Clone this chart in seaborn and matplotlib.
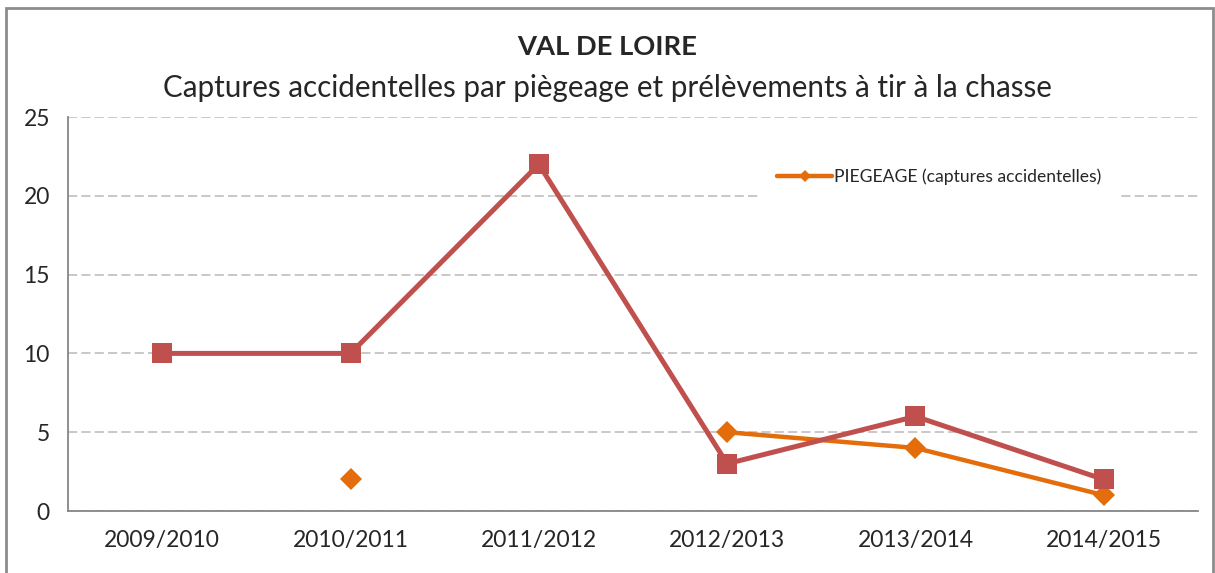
import numpy as np
import pandas as pd
import seaborn as sns
import matplotlib.pyplot as plt
from matplotlib.patches import Rectangle
from matplotlib.lines import Line2D

saisons = ["2009/2010", "2010/2011", "2011/2012", "2012/2013", "2013/2014", "2014/2015"]
tir = [10, 10, 22, 3, 6, 2]
piegeage = [np.nan, 2, np.nan, 5, 4, 1]

RED = "#C0504D"
ORANGE = "#E46C0A"
GRID = "#BFBFBF"
AXIS = "#868686"

sns.set_style("white")
plt.rcParams['font.family'] = ['Lato', 'DejaVu Sans']

df = pd.DataFrame({"x": range(len(saisons)), "tir": tir, "piegeage": piegeage})
# split orange series into segments where values are missing
df["seg"] = df["piegeage"].isna().cumsum()
pg = df.dropna(subset=["piegeage"])

fig = plt.figure(figsize=(12.15, 5.73), dpi=100)
ax = fig.add_axes([68 / 1215, 1 - 511 / 573, (1198 - 68) / 1215, (511 - 117) / 573])

sns.lineplot(data=pg, x="x", y="piegeage", units="seg", estimator=None, color=ORANGE,
             lw=3.2, marker="D", markersize=11, markeredgewidth=0, ax=ax, zorder=3)
sns.lineplot(data=df, x="x", y="tir", color=RED, lw=3.6, marker="s",
             markersize=14.5, markeredgewidth=0, ax=ax, zorder=4)

ax.set_xlim(-0.5, len(saisons) - 0.5)
ax.set_ylim(0, 25)
ax.set_yticks(range(0, 26, 5))
ax.set_xticks(range(len(saisons)))
ax.set_xticklabels(saisons)
ax.set_xticks(np.arange(-0.5, len(saisons), 1), minor=True)
ax.tick_params(axis="x", which="major", length=0, pad=14, labelsize=16.5)
ax.tick_params(axis="x", which="minor", length=7, color=AXIS, width=1.3, direction="out")
ax.tick_params(axis="y", length=7, color=AXIS, width=1.3, pad=6, labelsize=16.5)
ax.set_xlabel("")
ax.set_ylabel("")
ax.yaxis.grid(True, color=GRID, linestyle=(0, (5.5, 2.5)), lw=1.2)
ax.set_axisbelow(True)
for s in ["top", "right"]:
    ax.spines[s].set_visible(False)
for s in ["left", "bottom"]:
    ax.spines[s].set_color(AXIS)
    ax.spines[s].set_linewidth(1.3)

handle = Line2D([0], [0], color=ORANGE, lw=3.2, marker="D", markersize=6, markeredgewidth=0)
leg = ax.legend([handle], ["PIEGEAGE (captures accidentelles)"], loc="upper left",
                bbox_to_anchor=(0.6045, 0.935), frameon=True, fontsize=12.6,
                handlelength=3.15, handletextpad=0.1, borderpad=1.0)
leg.get_frame().set_edgecolor("white")
leg.get_frame().set_facecolor("white")
leg.get_frame().set_alpha(1)

fig.text(0.5, 1 - 47 / 573, "VAL DE LOIRE", ha="center", va="center",
         fontsize=19.7, fontweight="bold")
fig.text(0.5, 1 - 88 / 573, "Captures accidentelles par piègeage et prélèvements à tir à la chasse",
         ha="center", va="center", fontsize=21.3)

fig.patches.append(Rectangle((6 / 1215, -0.1), (1213 - 6) / 1215, 1.1 - 8 / 573,
                             transform=fig.transFigure, fill=False, edgecolor="#8C8C8C", lw=2))

fig.savefig("out.png", dpi=100)
